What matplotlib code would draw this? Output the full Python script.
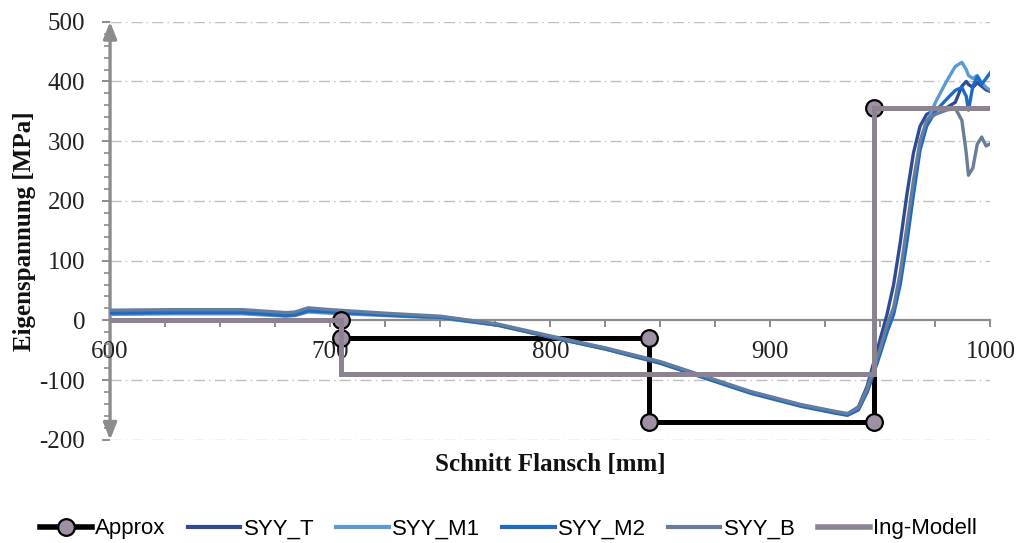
import matplotlib
matplotlib.use("Agg")
import matplotlib.pyplot as plt
from matplotlib.ticker import MultipleLocator
from matplotlib.lines import Line2D

plt.rcParams["axes.unicode_minus"] = False

# ---------------- data ----------------
x_mm = [600, 630, 660, 680, 684, 690, 700, 725, 750, 776, 800, 825, 850, 868,
        891, 914, 929, 935, 940, 944, 947, 950, 953, 956, 959, 962, 965, 968,
        971, 975, 980, 984, 987, 989, 990, 992, 994, 996, 998, 1000]

syy_t = [13, 14, 14, 9, 10, 18, 15, 10, 6, -7, -27, -47, -70, -92,
         -120, -142, -153, -157, -145, -110, -70, -30, 10, 60, 130, 210, 280, 325,
         345, 352, 356, 365, 392, 400, 395, 390, 398, 392, 386, 383]
syy_m1 = [10, 11, 11, 7, 8, 14, 12, 8, 4, -8, -28, -48, -71, -93,
          -121, -143, -154, -158, -148, -118, -85, -52, -15, 15, 70, 140, 220, 290,
          330, 365, 400, 425, 432, 420, 410, 405, 410, 398, 390, 385]
syy_m2 = [12, 13, 13, 8, 9, 16, 14, 9, 5, -8, -28, -48, -72, -94,
          -122, -144, -155, -159, -150, -120, -88, -55, -20, 10, 60, 130, 210, 285,
          325, 350, 370, 385, 390, 375, 352, 392, 408, 395, 405, 415]
syy_b = [17, 18, 18, 13, 14, 21, 18, 12, 7, -6, -26, -46, -69, -91,
         -119, -141, -152, -156, -146, -114, -80, -46, -8, 22, 80, 156, 234, 300,
         335, 345, 352, 355, 335, 280, 243, 255, 295, 307, 292, 296]

approx_x = [600, 705, 705, 845, 845, 947, 947, 1000]
approx_y = [0, 0, -30, -30, -170, -170, 355, 355]
approx_mx = [705, 705, 845, 845, 947, 947]
approx_my = [0, -30, -30, -170, -170, 355]

ing_x = [600, 705, 705, 947, 947, 1000]
ing_y = [0, 0, -90, -90, 355, 355]

x_ticks = [600, 700, 800, 900, 1000]
y_ticks = [-200, -100, 0, 100, 200, 300, 400, 500]

# ---------------- style ----------------
c_t = "#2E4B94"
c_m1 = "#5B9BD5"
c_m2 = "#1F6BC4"
c_b = "#6A7D98"
c_ing = "#8C8291"
c_mark = "#9D91A3"
c_axis = "#8C8C8C"
c_grid = "#BFBFBF"

serif = ["Liberation Serif", "DejaVu Serif"]
sans = ["Liberation Sans", "DejaVu Sans"]

fig = plt.figure(figsize=(10.19, 5.43), dpi=100)
ax = fig.add_axes([0.108, 0.19, 0.864, 0.770])

ax.set_xlim(600, 1000)
ax.set_ylim(-200, 500)

# grid
for yv in y_ticks:
    if yv != 0:
        ax.axhline(yv, color=c_grid, lw=1.0, ls=(0, (8, 3, 1, 3)), zorder=0)

# series
ax.plot(approx_x, approx_y, color="black", lw=3.6, zorder=2, solid_joinstyle="miter")
ax.plot(x_mm, syy_t, color=c_t, lw=2.4, zorder=3)
ax.plot(x_mm, syy_m1, color=c_m1, lw=2.4, zorder=3)
ax.plot(x_mm, syy_m2, color=c_m2, lw=2.4, zorder=3)
ax.plot(x_mm, syy_b, color=c_b, lw=2.4, zorder=3)
ax.plot(approx_mx, approx_my, ls="none", marker="o", ms=12, mfc=c_mark,
        mec="black", mew=1.6, zorder=4)
ax.plot(ing_x, ing_y, color=c_ing, lw=3.6, zorder=5, solid_joinstyle="miter")

# spines
for s in ["top", "right"]:
    ax.spines[s].set_visible(False)
ax.spines["left"].set_visible(False)
ax.spines["bottom"].set_position(("data", 0))
ax.spines["bottom"].set_color(c_axis)
ax.spines["bottom"].set_linewidth(1.6)
ax.spines["bottom"].set_zorder(1)

# y axis with arrows
ax.annotate("", xy=(0, 1), xytext=(0, 0), xycoords="axes fraction",
            textcoords="axes fraction",
            arrowprops=dict(arrowstyle="<|-|>,head_length=1.0,head_width=0.4",
                            color=c_axis, lw=2.4, shrinkA=0, shrinkB=0),
            zorder=1)

ax.set_xticks(x_ticks)
ax.set_yticks(y_ticks)
ax.xaxis.set_minor_locator(MultipleLocator(25))
ax.yaxis.set_minor_locator(MultipleLocator(20))
ax.tick_params(axis="x", which="both", direction="out", colors=c_axis,
               length=5, width=1.4, labelcolor="#222222", labelsize=18, pad=10)
ax.tick_params(axis="y", which="major", direction="out", colors=c_axis,
               length=6, width=1.4, labelcolor="#222222", labelsize=18, pad=12)
ax.tick_params(axis="y", which="minor", direction="out", colors=c_axis,
               length=4, width=1.2)
for lab in ax.get_xticklabels() + ax.get_yticklabels():
    lab.set_fontfamily(serif)

ax.set_xlabel("Schnitt Flansch [mm]", fontfamily=serif, fontweight="bold",
              fontsize=18, color="#111111")
ax.xaxis.set_label_coords(0.5, -0.032)
ax.set_ylabel("Eigenspannung [MPa]", fontfamily=serif, fontweight="bold",
              fontsize=18, color="#111111")
ax.yaxis.set_label_coords(-0.084, 0.5)

handles = [
    Line2D([], [], color="black", lw=4, marker="o", ms=12, mfc=c_mark, mec="black", mew=1.6),
    Line2D([], [], color=c_t, lw=3),
    Line2D([], [], color=c_m1, lw=3),
    Line2D([], [], color=c_m2, lw=3),
    Line2D([], [], color=c_b, lw=3),
    Line2D([], [], color=c_ing, lw=4),
]
labels = ["Approx", "SYY_T", "SYY_M1", "SYY_M2", "SYY_B", "Ing-Modell"]
fig.legend(handles, labels, loc="center", bbox_to_anchor=(0.499, 0.026), ncol=6,
           frameon=False, prop={"family": sans, "size": 16}, borderpad=0,
           handlelength=2.35, handletextpad=0.15, columnspacing=1.0)

fig.savefig("out.png", dpi=100)
